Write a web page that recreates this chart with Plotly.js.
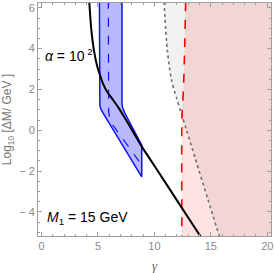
<!DOCTYPE html>
<html><head><meta charset="utf-8">
<script src="https://cdn.plot.ly/plotly-3.0.1.min.js"></script>
<style>html,body{margin:0;padding:0;background:#fff}#c{width:274px;height:273px}</style>
</head><body><div id="c"></div>
<script>
// Black curve (alpha = 10^2)
const blackX = [4.22, 4.4, 4.65, 4.95, 5.13, 5.4, 5.8, 6.36, 6.8, 7.55, 8.88, 9.9, 12.43, 14.05, 14.2];
const blackY = [6.4, 5.0, 3.9, 3.1, 2.8, 2.35, 1.9, 1.47, 1.12, 0.45, -0.8, -1.65, -3.8, -5.17, -5.3];
// Blue band: left edge, right edge, central dashed
const blueLeftX = [5.13, 5.13, 5.17, 5.26, 5.47, 8.88];
const blueLeftY = [6.4, 1.47, 1.22, 1.03, 0.83, -2.28];
const blueRightX = [7.13, 7.13, 7.17, 7.26, 7.4, 8.88];
const blueRightY = [6.4, 1.32, 1.12, 0.98, 0.82, -0.73];
const blueMidX = [5.92, 5.92, 5.95, 6.02, 6.12, 6.22, 8.75];
const blueMidY = [6.4, 1.2, 0.9, 0.65, 0.48, 0.33, -1.6];
// Gray dotted boundary
const grayX = [10.85, 11.15, 11.5, 11.95, 12.4, 12.85, 13.63, 14.75, 15.81];
const grayY = [6.3, 3.9, 2.5, 1.6, 0.8, 0.0, -1.4, -3.4, -5.3];
// Red dashed boundary
const redX = [12.77, 12.68, 12.57, 12.47, 12.43, 12.43];
const redY = [6.3, 4.0, 1.95, 1.0, 0.5, -5.3];
// Tick labels
const xTicks = [0, 5, 10, 15, 20];
const xTickText = ["0", "5", "10", "15", "20"];
const yTicks = [-4, -2, 0, 2, 4, 6];
const yTickText = ["− 4", "− 2", "0", "2", "4", "6"];

const X_EDGE = 21, Y_TOP = 6.5, Y_BOT = -5.5;

const grayPolyX = grayX.concat([X_EDGE, X_EDGE]);
const grayPolyY = grayY.concat([Y_BOT, Y_TOP]);
const redPolyX = redX.concat([X_EDGE, X_EDGE]);
const redPolyY = redY.concat([Y_BOT, Y_TOP]);
const bandX = blueLeftX.concat(blueRightX.slice().reverse());
const bandY = blueLeftY.concat(blueRightY.slice().reverse());

const traces = [
  {x: grayPolyX, y: grayPolyY, fill: 'toself', fillcolor: 'rgba(0,0,0,0.055)', line: {width: 0}, mode: 'lines', hoverinfo: 'skip'},
  {x: redPolyX, y: redPolyY, fill: 'toself', fillcolor: 'rgba(255,0,0,0.11)', line: {width: 0}, mode: 'lines', hoverinfo: 'skip'},
  {x: grayX, y: grayY, mode: 'lines', line: {color: '#707070', width: 1.6, dash: 'dot', shape: 'spline', smoothing: 0.8}},
  {x: redX, y: redY, mode: 'lines', line: {color: '#ff0000', width: 1.6, dash: 'dash', shape: 'spline', smoothing: 0.5}},
  {x: bandX, y: bandY, fill: 'toself', fillcolor: 'rgba(60,60,255,0.36)', line: {color: '#1010ff', width: 1.5}, mode: 'lines'},
  {x: blueMidX, y: blueMidY, mode: 'lines', line: {color: '#1010ff', width: 1.2, dash: 'dash'}},
  {x: blackX, y: blackY, mode: 'lines', line: {color: '#000', width: 2, shape: 'spline', smoothing: 0.6}}
];

const axisCommon = {
  showline: true, mirror: 'allticks', linecolor: '#a0a0a0', linewidth: 1,
  ticks: 'inside', ticklen: 4, tickcolor: '#a0a0a0', tickwidth: 1,
  showgrid: false, zeroline: false,
  tickfont: {family: 'Liberation Sans, Arial, sans-serif', size: 11, color: '#888'}
};

const layout = {
  width: 274, height: 273,
  margin: {l: 38, r: 3, t: 2.5, b: 37},
  paper_bgcolor: '#fff', plot_bgcolor: '#fff',
  showlegend: false,
  xaxis: Object.assign({}, axisCommon, {
    range: [-0.31, 20.33], tickmode: 'array', tickvals: xTicks, ticktext: xTickText,
    minor: {dtick: 1, ticklen: 2, tickcolor: '#a0a0a0', ticks: 'inside'},
    title: {text: '<i>γ</i>', font: {family: 'Liberation Serif, serif', size: 13, color: '#666'}, standoff: 13}
  }),
  yaxis: Object.assign({}, axisCommon, {
    range: [-5.18, 6.235], tickmode: 'array', tickvals: yTicks, ticktext: yTickText,
    minor: {dtick: 0.5, ticklen: 2, tickcolor: '#a0a0a0', ticks: 'inside'},
    title: {text: 'Log<sub>10</sub> [ΔM/ GeV ]', font: {family: 'Liberation Sans, Arial, sans-serif', size: 12, color: '#777'}, standoff: 7}
  }),
  annotations: [
    {x: 0.1, y: 3.7, xref: 'x', yref: 'y', xanchor: 'left', yanchor: 'middle', showarrow: false,
     text: '<i>α</i> = 10<sup> 2</sup>', font: {family: 'Liberation Sans, Arial, sans-serif', size: 14, color: '#000'}},
    {x: 0.3, y: -4.3, xref: 'x', yref: 'y', xanchor: 'left', yanchor: 'middle', showarrow: false,
     text: '<i>M</i><sub>1</sub> = 15 GeV', font: {family: 'Liberation Sans, Arial, sans-serif', size: 14, color: '#000'}}
  ]
};

Plotly.newPlot('c', traces, layout, {staticPlot: true, displayModeBar: false});
</script>
</body></html>
